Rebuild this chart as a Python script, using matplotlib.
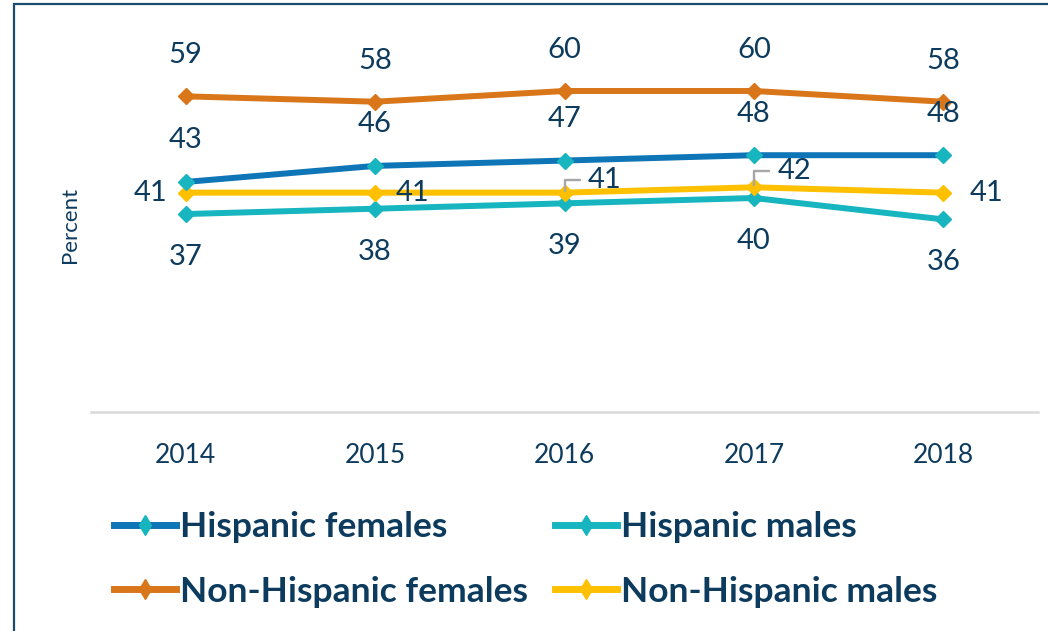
import matplotlib
matplotlib.use("Agg")
import matplotlib.pyplot as plt
from matplotlib.patches import Rectangle

years = ["2014", "2015", "2016", "2017", "2018"]
hispanic_females = [43, 46, 47, 48, 48]
hispanic_males = [37, 38, 39, 40, 36]
nonhispanic_females = [59, 58, 60, 60, 58]
nonhispanic_males = [41, 41, 41, 42, 41]

NAVY = "#0D3B5E"
BLUE = "#0E75B6"
TEAL = "#17B5BF"
ORANGE = "#D9761A"
YELLOW = "#FFC000"

plt.rcParams["font.family"] = ["Lato", "DejaVu Sans"]

fig = plt.figure(figsize=(10.48, 6.31), dpi=100)
fig.patches.append(Rectangle((14 / 1048, -0.1), 1.2, 1.1 - 4 / 631,
                             transform=fig.transFigure, fill=False,
                             edgecolor="#1B4B6E", linewidth=1.6))

ax = fig.add_axes([91 / 1048, 219 / 631, 947 / 1048, 374.5 / 631])
x = list(range(len(years)))

lw = 4.3
ms = 8.5
l_hf, = ax.plot(x, hispanic_females, color=BLUE, lw=lw, marker="D", ms=ms,
                mfc=TEAL, mec=TEAL, label="Hispanic females", zorder=4)
l_hm, = ax.plot(x, hispanic_males, color=TEAL, lw=lw, marker="D", ms=ms,
                mfc=TEAL, mec=TEAL, label="Hispanic males", zorder=3)
l_nhf, = ax.plot(x, nonhispanic_females, color=ORANGE, lw=lw, marker="D", ms=ms,
                 mfc=ORANGE, mec=ORANGE, label="Non-Hispanic females", zorder=3)
l_nhm, = ax.plot(x, nonhispanic_males, color=YELLOW, lw=lw, marker="D", ms=ms,
                 mfc=YELLOW, mec=YELLOW, label="Non-Hispanic males", zorder=3)

ax.set_xlim(-0.5, len(years) - 0.5)
ax.set_ylim(0, 70)
ax.set_xticks(x)
ax.set_xticklabels(years)
ax.set_yticks([])
ax.tick_params(axis="x", length=0, pad=22, labelsize=19, labelcolor=NAVY)
for s in ("top", "right", "left"):
    ax.spines[s].set_visible(False)
ax.spines["bottom"].set_color("#D9D9D9")
ax.spines["bottom"].set_linewidth(1.8)
ax.set_ylabel("Percent", fontsize=16, color=NAVY)
ax.yaxis.set_label_coords(-0.012, 0.5)

lab = dict(fontsize=21, color=NAVY, ha="center", va="center",
           textcoords="offset points", zorder=6)

for i, v in enumerate(nonhispanic_females):
    ax.annotate(str(v), (i, v), xytext=(0, 29.5), **lab)
for i, v in enumerate(hispanic_females):
    ax.annotate(str(v), (i, v), xytext=(0, 30), **lab)
for i, v in enumerate(hispanic_males):
    ax.annotate(str(v), (i, v), xytext=(0, -31), **lab)

nhm_offsets = [(-25, 0), (27, 0), (29, 9), (29, 12), (31, -0.5)]
for i, (v, off) in enumerate(zip(nonhispanic_males, nhm_offsets)):
    kw = dict(lab)
    if i in (2, 3):
        kw["arrowprops"] = dict(arrowstyle="-", color="#A6A6A6", lw=1.7,
                                connectionstyle="angle,angleA=0,angleB=90,rad=0",
                                shrinkA=4, shrinkB=1.5)
    ax.annotate(str(v), (i, v), xytext=off, **kw)

leg = fig.legend([l_hf, l_nhf, l_hm, l_nhm],
                 ["Hispanic females", "Non-Hispanic females",
                  "Hispanic males", "Non-Hispanic males"],
                 ncol=2, loc="upper left", bbox_to_anchor=(100 / 1048, 1 - 497 / 631),
                 frameon=False, handlelength=1.75, handletextpad=0.12,
                 columnspacing=0.75, labelspacing=0.92, borderaxespad=0,
                 prop=dict(family=["Lato", "DejaVu Sans"], weight="bold", size=25.5),
                 labelcolor=NAVY)
for h in leg.legend_handles:
    h.set_marker("d")
    h.set_markersize(10)
    h.set_linewidth(5)

fig.savefig("out.png", dpi=100)
